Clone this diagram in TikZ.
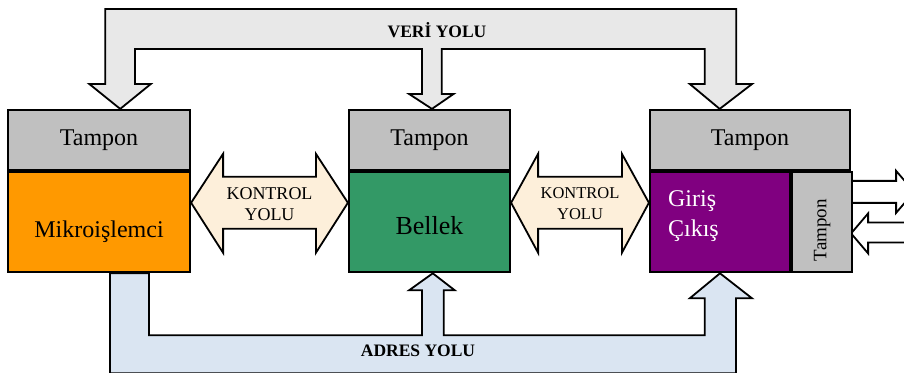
\documentclass[tikz,border=0pt]{standalone}
\usepackage{fontspec}
\setmainfont{Liberation Serif}
\usepackage{tikz}
\usetikzlibrary{calc}
\usetikzlibrary{positioning}

\definecolor{tampongray}{HTML}{C0C0C0}
\definecolor{mporange}{HTML}{FF9900}
\definecolor{memgreen}{HTML}{339966}
\definecolor{iopurple}{HTML}{800080}
\definecolor{ctlcream}{HTML}{FDEFDA}
\definecolor{datagray}{HTML}{E8E8E8}
\definecolor{addrblue}{HTML}{DAE5F2}

\tikzset{
    unit/.style={rectangle, draw=black, line width=2.2pt, inner sep=0pt, minimum height=100pt},
    buf/.style={unit, fill=tampongray, minimum height=60pt, font=\fontsize{24}{28}\selectfont},
    bus/.style={draw=black, line width=1.8pt, line join=miter},
    buslabel/.style={font=\bfseries\fontsize{17.5}{20}\selectfont},
    ctllabel/.style={align=center, font=\fontsize{#1}{21}\selectfont}
}

\begin{document}
\begin{tikzpicture}[x=1pt, y=-1pt]
            \useasboundingbox (0, 0) rectangle (904, 372);
            \clip (0, 0) rectangle (904, 372);

            % three units, each with its buffer on top
            \node[buf, minimum width=182pt] (mpbuf) at (99, 140) {Tampon};
            \node[unit, fill=mporange, minimum width=182pt, below=0pt of mpbuf,
                  text height=30pt, text depth=0pt, font=\fontsize{24}{28}\selectfont] (mp) {Mikroişlemci};
            \node[buf, minimum width=161pt] (membuf) at (429.5, 140) {Tampon};
            \node[unit, fill=memgreen, minimum width=161pt, below=0pt of membuf,
                  text height=24pt, text depth=0pt, font=\fontsize{26}{30}\selectfont] (mem) {Bellek};
            \node[buf, minimum width=200pt] (iobuf) at (750, 140) {Tampon};

            % outside lines of the I/O unit
            \coordinate (o1) at ($(iobuf.south east)!.21!(iobuf.south east |- 0, 270)$);
            \coordinate (o2) at ($(iobuf.south east)!.63!(iobuf.south east |- 0, 270)$);
            \draw[bus, fill=white] (o1) ++(0, -11) -- ++(45, 0) -- ++(0, -10) -- ++(18, 21)
                -- ++(-18, 21) -- ++(0, -10) -- ++(-45, 0) -- cycle;
            \draw[bus, fill=white] (o2) -- ++(17, -20) -- ++(0, 9) -- ++(50, 0) -- ++(0, 20)
                -- ++(-50, 0) -- ++(0, 11) -- cycle;

            \node[unit, fill=iopurple, minimum width=140pt, anchor=north west] (io) at (iobuf.south west) {};
            \node[unit, fill=tampongray, minimum width=60pt, anchor=north west] (iosidebuf) at (io.north east) {};
            \node[rotate=90, font=\fontsize{19}{22}\selectfont] (sidetext)
                at ($(iosidebuf.center) + (0, 8)$) {Tampon};
            \node[anchor=west, align=left, inner sep=0pt, text=white, font=\fontsize{24}{30}\selectfont] (iotext)
                at ($(io.west) + (19, -6)$) {Giriş\\Çıkış};

            % data bus
            \coordinate (d1) at ($(mpbuf.north west)!.615!(mpbuf.north east)$);
            \coordinate (d2) at ($(membuf.north west)!.515!(membuf.north east)$);
            \coordinate (d3) at ($(iobuf.north west)!.35!(iobuf.north east)$);
            \draw[bus, fill=datagray] (d1) -- ++(-31, -25) -- ++(16, 0) -- ++(0, -75) -- ++(631, 0)
                -- ++(0, 75) -- ++(16, 0) -- (d3) -- ++(-30, -25) -- ++(15, 0) -- ++(0, -35)
                -- ++(-263, 0) -- ++(0, 45) -- ++(12, 0) -- (d2) -- ++(-23, -15) -- ++(13, 0)
                -- ++(0, -45) -- ++(-287, 0) -- ++(0, 35) -- ++(16, 0) -- cycle;
            \node[buslabel] (veri) at (437, 30) {VERİ YOLU};

            % address bus
            \coordinate (a0) at ($(mp.south west)!.56!(mp.south east)$);
            \coordinate (a1) at ($(mem.south west)!.52!(mem.south east)$);
            \coordinate (a2) at (io.south);
            \draw[bus, fill=addrblue] (a0) -- ++(39, 0) -- ++(0, 62) -- ++(273, 0) -- ++(0, -45)
                -- ++(-13, 0) -- (a1) -- ++(22, 17) -- ++(-11, 0) -- ++(0, 45) -- ++(261, 0)
                -- ++(0, -37) -- ++(-15, 0) -- (a2) -- ++(32, 25) -- ++(-16, 0) -- ++(0, 75)
                -- ++(-626, 0) -- cycle;
            \node[buslabel] (adres) at (418, 351) {ADRES YOLU};

            % control lines between the units
            \coordinate (k1) at ($(mp.north east)!.31!(mp.south east)$);
            \coordinate (k2) at ($(mem.north west)!.31!(mem.south west)$);
            \coordinate (k3) at ($(mem.north east)!.31!(mem.south east)$);
            \coordinate (k4) at ($(io.north west)!.31!(io.south west)$);
            \foreach \a/\b/\h/\s in {k1/k2/32/18, k3/k4/27/16.5}
            {
                \draw[bus, fill=ctlcream] (\a) -- ++(\h, -49) -- ++(0, 23) -- ($(\b) + (-\h, -26)$)
                    -- ++(0, -23) -- (\b) -- ++(-\h, 50) -- ++(0, -24) -- ($(\a) + (\h, 26)$)
                    -- ++(0, 24) -- cycle;
                \node[ctllabel=\s] at ($(\a)!.5!(\b) + (0, 1)$) {KONTROL\\YOLU};
            }
        \end{tikzpicture}
\end{document}
